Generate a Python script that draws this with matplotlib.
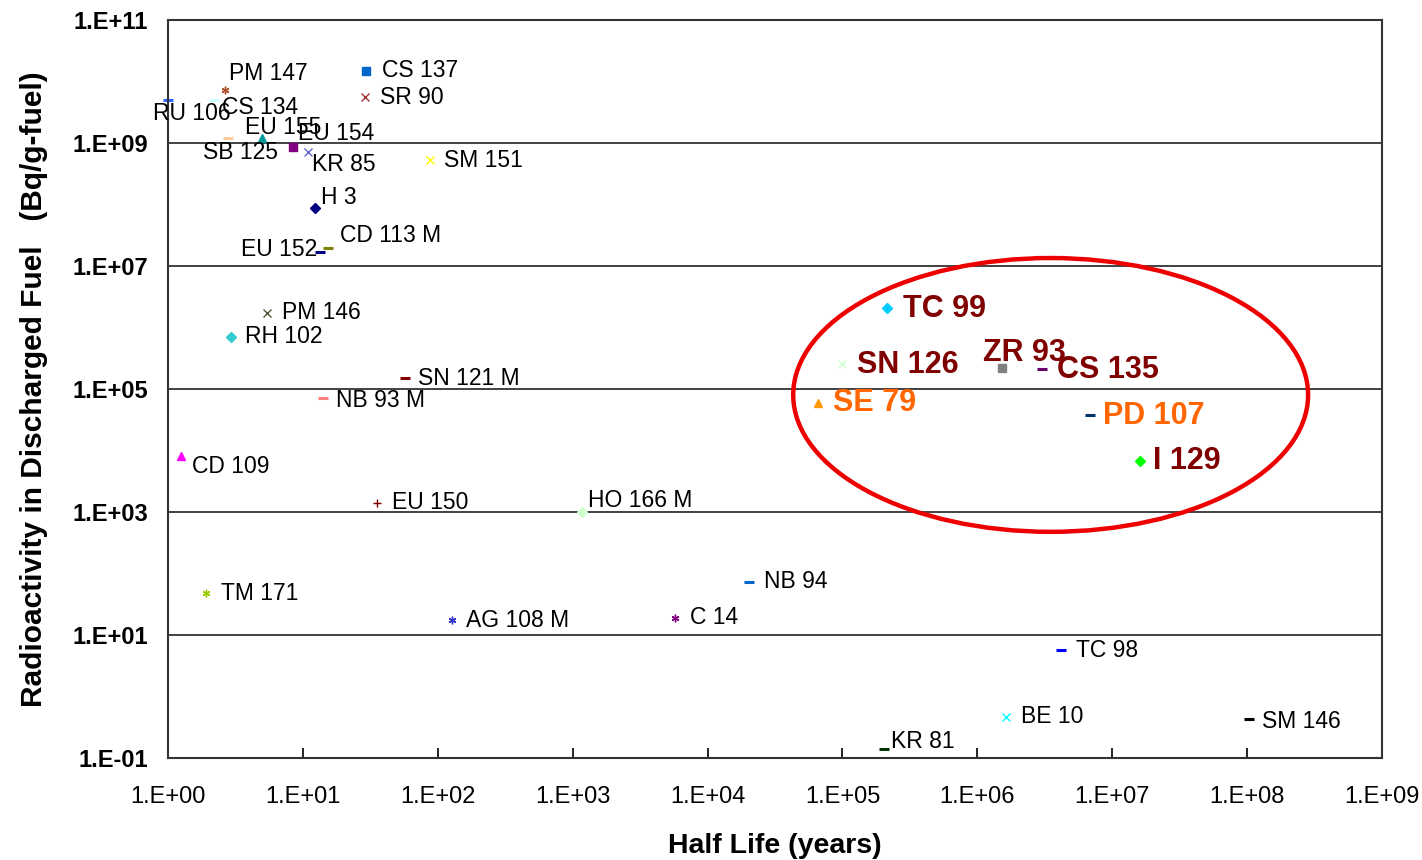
import matplotlib.pyplot as plt
from matplotlib.patches import Ellipse
from matplotlib.ticker import FixedLocator, NullLocator

# nuclide, half life (years), activity in discharged fuel (Bq/g-fuel)
nuclides = ["RU 106", "PM 147", "CS 134", "EU 155", "SB 125", "EU 154", "KR 85",
            "CS 137", "SR 90", "SM 151", "H 3", "CD 113 M", "EU 152", "PM 146",
            "RH 102", "SN 121 M", "NB 93 M", "CD 109", "EU 150", "HO 166 M",
            "TM 171", "AG 108 M", "C 14", "NB 94", "TC 99", "SN 126", "ZR 93",
            "CS 135", "SE 79", "PD 107", "I 129", "TC 98", "BE 10", "SM 146", "KR 81"]
half_life = [1.0, 2.65, 2.19, 4.97, 2.78, 8.45, 10.9,
             29.4, 29.0, 87.5, 12.3, 15.4, 13.4, 5.42,
             2.93, 57.0, 14.1, 1.25, 35.4, 1170.0,
             1.91, 127.0, 5730.0, 2.03e4, 2.14e5, 1.0e5, 1.52e6,
             3.0e6, 6.6e4, 6.8e6, 1.6e7, 4.2e6, 1.63e6, 1.03e8, 2.03e5]
activity = [5.0e9, 7.2e9, 5.0e9, 1.2e9, 1.2e9, 8.6e8, 7.1e8,
            1.5e10, 5.6e9, 5.3e8, 8.8e7, 2.0e7, 1.7e7, 1.7e6,
            7.0e5, 1.5e5, 7.1e4, 8.1e3, 1.4e3, 1.0e3,
            48.0, 17.5, 18.9, 73.0, 2.1e6, 2.55e5, 2.2e5,
            2.1e5, 5.9e4, 3.8e4, 6.7e3, 5.7, 0.47, 0.43, 0.14]

# marker, colour and label styling per nuclide
markers = ["_", (6, 2, 0), "_", "^", "_", "s", "x",
           "s", "x", "x", "D", "_", "_", "x",
           "D", "_", "_", "^", "+", "D",
           (6, 2, 0), (6, 2, 0), (6, 2, 0), "_", "D", "x", "s",
           "_", "^", "_", "D", "_", "x", "_", "_"]
colors = ["#3366ff", "#b0502a", "#ccffff", "#009999", "#ffcc99", "#800080", "#6666cc",
          "#0066cc", "#a33333", "#ffff00", "#000080", "#808000", "#000080", "#555533",
          "#33cccc", "#800000", "#ff8080", "#ff00ff", "#800000", "#ccffcc",
          "#99cc00", "#3333cc", "#800080", "#0066cc", "#00ccff", "#ccffcc", "#808080",
          "#660066", "#ff9900", "#003366", "#00ff00", "#0000ff", "#00ffff", "#000000", "#003300"]
label_offsets = [(-15, -13), (4, 17), (8, -7), (-17, 11), (-25, -14), (5, 14), (4, -12),
                 (16, 0), (15, 0), (14, -1), (6, 10), (12, 12), (-79, 2), (15, 1),
                 (14, 1), (13, 0), (13, -2), (11, -10), (15, 1), (6, 12),
                 (15, 0), (14, 0), (15, 1), (15, 0), (16, -1), (15, -1), (-19, 15),
                 (15, -1), (15, 0), (13, -1), (13, 0), (15, 0), (15, 0), (13, -2), (7, 8)]
highlight = {"TC 99": "#800000", "SN 126": "#800000", "ZR 93": "#800000",
             "CS 135": "#800000", "I 129": "#800000", "SE 79": "#ff6600", "PD 107": "#ff6600"}

x_ticks = [10.0 ** k for k in range(0, 10)]
y_ticks = [10.0 ** k for k in range(-1, 12, 2)]

plt.rcParams['font.family'] = ['Liberation Sans', 'DejaVu Sans']

fig = plt.figure(figsize=(14.22, 8.6), dpi=100)
ax = fig.add_axes([0.118, 0.1186, 0.854, 0.8581])
ax.set_xscale("log")
ax.set_yscale("log")
ax.set_xlim(1, 1e9)
ax.set_ylim(0.1, 1e11)

for name, hx, act, mk, col, off in zip(nuclides, half_life, activity, markers, colors, label_offsets):
    if mk == "_":
        ms, mew = 7, 2.2
    else:
        ms, mew = 5.5, 1.0
    ax.plot([hx], [act], linestyle="none", marker=mk, markersize=ms, color=col,
            markeredgewidth=mew, clip_on=False)
    if name in highlight:
        ax.annotate(name, (hx, act), xytext=off, textcoords="offset pixels",
                    ha="left", va="center", fontsize=22, fontweight="bold",
                    color=highlight[name])
    else:
        ax.annotate(name, (hx, act), xytext=off, textcoords="offset pixels",
                    ha="left", va="center", fontsize=16.5, color="black")

# circle around the long-lived fission products
ax.add_patch(Ellipse((0.727, 0.492), 0.424, 0.371, transform=ax.transAxes,
                     fill=False, edgecolor="#ee0000", linewidth=3.2, zorder=5))

ax.xaxis.set_major_locator(FixedLocator(x_ticks))
ax.yaxis.set_major_locator(FixedLocator(y_ticks))
ax.xaxis.set_minor_locator(NullLocator())
ax.yaxis.set_minor_locator(NullLocator())
ax.set_xticklabels(["1.E+%02d" % k for k in range(0, 10)], fontsize=17)
ax.set_yticklabels(["1.E-01"] + ["1.E+%02d" % k for k in range(1, 12, 2)],
                   fontsize=17, fontweight="bold")
ax.tick_params(axis="x", direction="in", length=7, width=1.2, pad=20)
ax.tick_params(axis="y", length=0, pad=14)
ax.grid(axis="y", color="#333333", linewidth=1.3)
for side in ax.spines.values():
    side.set_color("#333333")
    side.set_linewidth(1.5)

ax.set_xlabel("Half Life (years)", fontsize=20.5, fontweight="bold", labelpad=18)
ax.set_ylabel("Radioactivity in Discharged Fuel   (Bq/g-fuel)", fontsize=21.5,
              fontweight="bold", labelpad=18)

fig.savefig("out.png", dpi=100, facecolor="white")
